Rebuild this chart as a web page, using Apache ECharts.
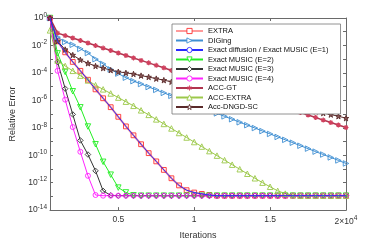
<!DOCTYPE html>
<html>
<head>
<meta charset="utf-8">
<script src="https://cdn.jsdelivr.net/npm/echarts@6/dist/echarts.min.js"></script>
<style>html,body{margin:0;padding:0;background:#fff;}</style>
</head>
<body>
<div id="myChart" style="width:382px;height:245px;"></div>
<script>
// iterations where the markers sit
var iters = [500, 1000, 1500, 2000, 2500, 3000, 3500, 4000, 4500, 5000,
  5500, 6000, 6500, 7000, 7500, 8000, 8500, 9000, 9500, 10000,
  10500, 11000, 11500, 12000, 12500, 13000, 13500, 14000, 14500, 15000,
  15500, 16000, 16500, 17000, 17500, 18000, 18500, 19000, 19500, 20000];

// log10 of the relative error
var extraLog = [0, -1.7, -2.5, -3.2, -3.85, -4.5, -5.2, -5.85, -6.5, -7.2,
  -7.9, -8.55, -9.2, -9.85, -10.45, -11.07, -11.68, -12.2, -12.55, -12.72,
  -12.82, -12.9, -12.95, -12.95, -12.95, -12.95, -12.95, -12.95, -12.95, -12.95,
  -12.95, -12.95, -12.95, -12.95, -12.95, -12.95, -12.95, -12.95, -12.95, -12.95];
var digingLog = [0, -1.4, -1.75, -1.95, -2.25, -2.55, -3.0, -3.35, -3.75, -4.05,
  -4.35, -4.6, -4.81, -5.03, -5.24, -5.46, -5.67, -5.88, -6.1, -6.31,
  -6.53, -6.74, -6.95, -7.17, -7.38, -7.6, -7.81, -8.02, -8.24, -8.45,
  -8.67, -8.88, -9.09, -9.31, -9.52, -9.74, -9.95, -10.16, -10.38, -10.6];
var exactDiffLog = [0, -1.7, -2.5, -3.2, -3.85, -4.5, -5.2, -5.85, -6.5, -7.2,
  -7.9, -8.55, -9.2, -9.85, -10.45, -11.07, -11.68, -12.2, -12.55, -12.72,
  -12.82, -12.9, -12.95, -12.95, -12.95, -12.95, -12.95, -12.95, -12.95, -12.95,
  -12.95, -12.95, -12.95, -12.95, -12.95, -12.95, -12.95, -12.95, -12.95, -12.95];
var music2Log = [0, -2.58, -3.93, -5.34, -6.51, -7.91, -9.2, -10.48, -11.42, -12.36,
  -12.71, -12.92, -12.95, -12.95, -12.95, -12.95, -12.95, -12.95, -12.95, -12.95,
  -12.95, -12.95, -12.95, -12.95, -12.95, -12.95, -12.95, -12.95, -12.95, -12.95,
  -12.95, -12.95, -12.95, -12.95, -12.95, -12.95, -12.95, -12.95, -12.95, -12.95];
var music3Log = [0, -3.2, -5.15, -7.03, -8.92, -9.95, -11.14, -12.6, -12.92, -12.95,
  -12.95, -12.95, -12.95, -12.95, -12.95, -12.95, -12.95, -12.95, -12.95, -12.95,
  -12.95, -12.95, -12.95, -12.95, -12.95, -12.95, -12.95, -12.95, -12.95, -12.95,
  -12.95, -12.95, -12.95, -12.95, -12.95, -12.95, -12.95, -12.95, -12.95, -12.95];
var music4Log = [0, -3.85, -5.95, -7.95, -9.75, -11.5, -12.9, -12.95, -12.95, -12.95,
  -12.95, -12.95, -12.95, -12.95, -12.95, -12.95, -12.95, -12.95, -12.95, -12.95,
  -12.95, -12.95, -12.95, -12.95, -12.95, -12.95, -12.95, -12.95, -12.95, -12.95,
  -12.95, -12.95, -12.95, -12.95, -12.95, -12.95, -12.95, -12.95, -12.95, -12.95];
var accGtLog = [0, -1.1, -1.28, -1.46, -1.64, -1.82, -2.01, -2.19, -2.37, -2.55,
  -2.73, -2.91, -3.09, -3.27, -3.45, -3.63, -3.82, -4.0, -4.18, -4.36,
  -4.54, -4.72, -4.9, -5.08, -5.26, -5.44, -5.63, -5.81, -5.99, -6.17,
  -6.35, -6.53, -6.71, -6.89, -7.07, -7.25, -7.44, -7.62, -7.8, -7.98];
var accExtraLog = [-0.9, -3.1, -3.5, -3.85, -4.2, -4.55, -4.9, -5.2, -5.5, -5.8,
  -6.1, -6.4, -6.73, -7.06, -7.39, -7.72, -8.05, -8.38, -8.71, -9.04,
  -9.37, -9.7, -10.03, -10.36, -10.69, -11.02, -11.35, -11.68, -12.0, -12.3,
  -12.6, -12.8, -12.92, -12.95, -12.95, -12.95, -12.95, -12.95, -12.95, -12.95];
var accDngdLog = [0, -1.7, -2.3, -2.7, -3.05, -3.3, -3.5, -3.65, -3.8, -3.92,
  -4.0, -4.08, -4.2, -4.3, -4.42, -4.53, -4.65, -4.76, -4.87, -4.99,
  -5.1, -5.22, -5.33, -5.45, -5.56, -5.67, -5.79, -5.9, -6.02, -6.13,
  -6.24, -6.36, -6.47, -6.59, -6.7, -6.81, -6.93, -7.04, -7.16, -7.3];

var xTicks = [5000, 10000, 15000, 20000];
var xTickLabels = ['0.5', '1', '1.5', '2\u00d710{sup|4}'];
var yDecades = [1, 1e-1, 1e-2, 1e-3, 1e-4, 1e-5, 1e-6, 1e-7, 1e-8, 1e-9, 1e-10, 1e-11, 1e-12, 1e-13, 1e-14];
var yLabelVals = [1, 1e-2, 1e-4, 1e-6, 1e-8, 1e-10, 1e-12, 1e-14];

var font = 'Liberation Sans, Arial, sans-serif';
var axisCol = '#6a6a6a';
var asterisk = 'path://M5,0L5,10M0,5L10,5M1.5,1.5L8.5,8.5M1.5,8.5L8.5,1.5';
var pentagram = 'path://M0,-10L2.35,-3.24L9.51,-3.09L3.8,1.24L5.88,8.09L0,4L-5.88,8.09L-3.8,1.24L-9.51,-3.09L-2.35,-3.24Z';

function pts(logs) {
  return iters.map(function (x, i) { return [x, Math.pow(10, logs[i])]; });
}

function mk(name, logs, color, lineW, symbol, rot, size, fill) {
  return {
    name: name,
    type: 'line',
    data: pts(logs),
    symbol: symbol,
    symbolSize: size,
    symbolRotate: rot,
    showSymbol: symbol !== 'none',
    lineStyle: { color: color, width: lineW },
    itemStyle: { color: fill || 'rgba(255,255,255,0)', borderColor: color, borderWidth: 0.9 },
    z: 3
  };
}

var myChart = echarts.init(document.getElementById('myChart'), null, { renderer: 'canvas' });

var series = [
  mk('EXTRA', extraLog, '#ff9a9a', 2, 'rect', 0, 4.8),
  mk('DIGing', digingLog, '#3f8fd2', 1, 'triangle', -90, 5.5),
  mk('Exact diffusion / Exact MUSIC (E=1)', exactDiffLog, '#2a2aff', 1, 'none', 0, 0),
  mk('Exact MUSIC (E=2)', music2Log, '#22ee22', 1, 'triangle', 180, 5.5),
  mk('Exact MUSIC (E=3)', music3Log, '#333333', 1, 'diamond', 0, 5.5),
  mk('Exact MUSIC (E=4)', music4Log, '#ff22ff', 1, 'circle', 0, 5),
  mk('ACC-GT', accGtLog, '#b0354f', 1.5, asterisk, 0, 5),
  mk('ACC-EXTRA', accExtraLog, '#9cc84a', 1, 'triangle', 0, 5.5),
  mk('Acc-DNGD-SC', accDngdLog, '#5a2a2a', 1, pentagram, 0, 5.5, '#8a5a5a')
];
// EXTRA squares drawn in a stronger red than its line
series[0].itemStyle.borderColor = '#ff3030';
series[6].itemStyle.borderColor = '#d0405e';
series[6].itemStyle.borderWidth = 1.2;
// blue line sits on top of the EXTRA line
series[2].z = 4;

myChart.setOption({
  animation: false,
  textStyle: { fontFamily: font },
  grid: { left: 50, right: 36, top: 18, bottom: 27, containLabel: false },
  legend: {
    orient: 'vertical',
    left: 172,
    top: 24,
    itemWidth: 27,
    itemHeight: 6.5,
    itemGap: 1.5,
    padding: [3, 12, 3, 3],
    backgroundColor: '#fff',
    borderColor: '#777',
    borderWidth: 0.8,
    itemStyle: { color: '#fff', borderWidth: 0.9 },
    textStyle: { fontSize: 7.5, color: '#111', fontFamily: font },
    data: series.map(function (s) { return s.name; })
  },
  xAxis: [
    {
      type: 'value', min: 500, max: 20000, position: 'bottom',
      name: 'Iterations', nameLocation: 'middle', nameGap: 20,
      nameTextStyle: { fontSize: 9, color: '#333' },
      axisLine: { lineStyle: { color: axisCol, width: 1 } },
      axisTick: { inside: true, length: 3, customValues: xTicks, lineStyle: { color: axisCol } },
      axisLabel: {
        customValues: xTicks, margin: 5, fontSize: 8.5, color: '#333',
        formatter: function (v) { return xTickLabels[xTicks.indexOf(v)]; },
        rich: { sup: { fontSize: 6.5, color: '#333', padding: [0, 0, 6, 0] } }
      },
      splitLine: { show: false }
    },
    {
      type: 'value', min: 500, max: 20000, position: 'top',
      axisLine: { lineStyle: { color: axisCol, width: 1 } },
      axisTick: { inside: true, length: 3, customValues: xTicks, lineStyle: { color: axisCol } },
      axisLabel: { show: false },
      splitLine: { show: false }
    }
  ],
  yAxis: [
    {
      type: 'log', logBase: 100, min: 1e-14, max: 1, splitNumber: 7, position: 'left',
      name: 'Relative Error', nameLocation: 'middle', nameGap: 32, nameRotate: 90,
      nameTextStyle: { fontSize: 9, color: '#333' },
      axisLine: { show: true, lineStyle: { color: axisCol, width: 1 } },
      axisTick: { inside: true, length: 3, customValues: yDecades, lineStyle: { color: axisCol } },
      axisLabel: {
        customValues: yLabelVals, margin: 3, fontSize: 8.5, color: '#333',
        formatter: function (v) { return '10{sup|' + Math.round(Math.log(v) / Math.LN10) + '}'; },
        rich: { sup: { fontSize: 6.5, color: '#333', padding: [0, 0, 6, 0] } }
      },
      splitLine: { show: false }
    },
    {
      type: 'log', logBase: 100, min: 1e-14, max: 1, splitNumber: 7, position: 'right',
      axisLine: { show: true, lineStyle: { color: axisCol, width: 1 } },
      axisTick: { inside: true, length: 3, customValues: yDecades, lineStyle: { color: axisCol } },
      axisLabel: { show: false },
      splitLine: { show: false }
    }
  ],
  series: series
});
</script>
</body>
</html>
